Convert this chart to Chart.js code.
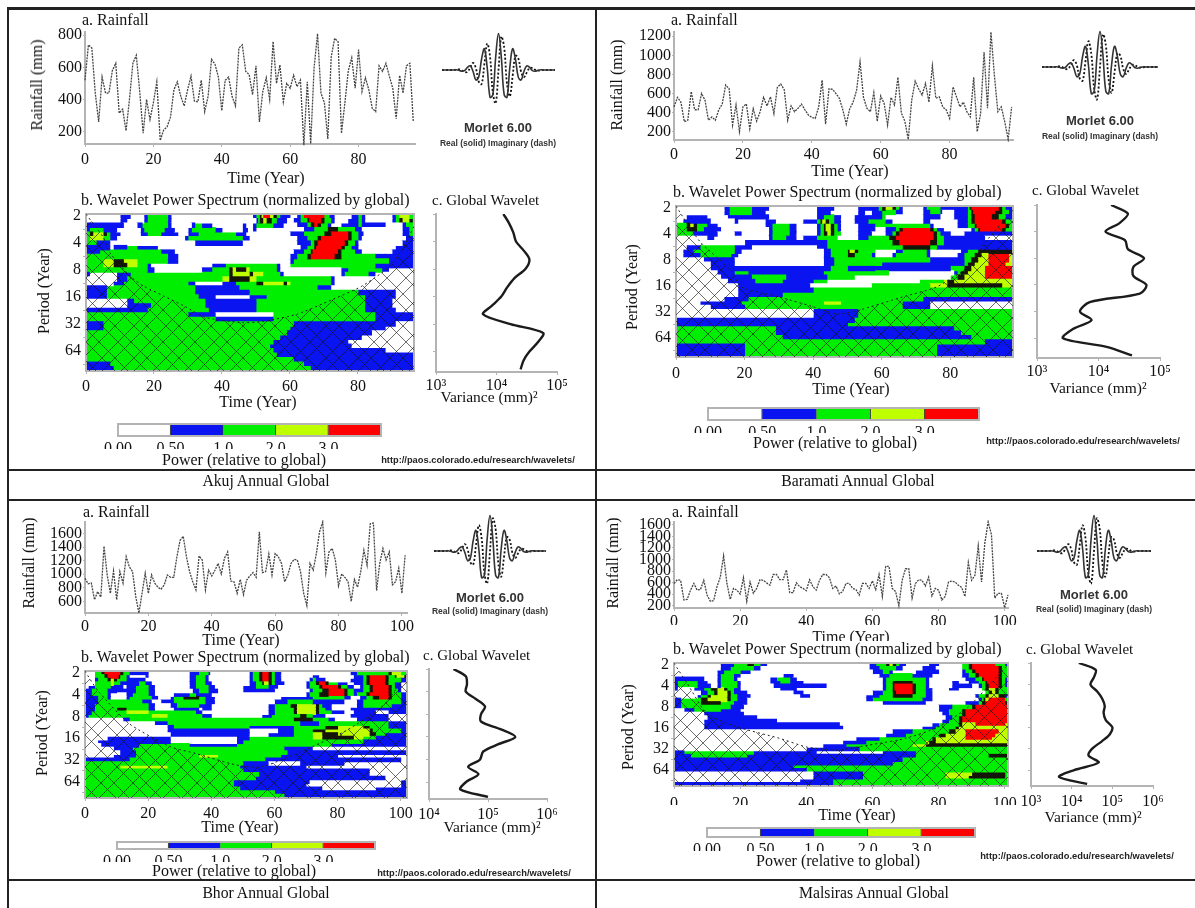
<!DOCTYPE html>
<html>
<head>
<meta charset="utf-8">
<title>Annual Global Wavelet</title>
<script src="https://cdn.jsdelivr.net/npm/chart.js@4/dist/chart.umd.min.js"></script>
<style>
  html, body { margin: 0; padding: 0; background: #fff; }
  #page { position: relative; width: 1195px; height: 908px; overflow: hidden; filter: blur(0.35px); }
  #page canvas { position: absolute; }
  .rule { position: absolute; background: #222; }
  .txt { position: absolute; white-space: nowrap; color: #111; font-family: "Liberation Serif", serif; }
</style>
</head>
<body>
<div id="page"></div>
<script>
const akuj_rain = [520,740,720,440,260,540,440,440,580,625,315,340,205,400,625,675,450,190,400,275,380,510,145,210,230,290,460,510,420,360,460,545,390,385,520,325,420,650,620,540,330,520,540,420,360,720,740,575,555,430,610,260,450,535,400,760,500,615,385,500,470,550,480,520,115,510,125,600,810,440,380,155,665,780,760,190,380,580,660,470,710,450,535,460,345,325,610,575,625,545,470,280,550,440,610,625,260]
const baramati_rain = [460,560,510,305,320,620,430,430,600,530,320,355,320,430,490,690,650,270,480,200,460,490,230,440,310,410,560,470,565,390,665,700,640,320,470,410,445,490,430,375,350,340,460,740,280,650,645,600,550,430,280,440,510,635,930,560,445,410,610,310,575,495,270,560,480,770,395,310,120,530,730,650,585,705,510,890,550,565,460,430,340,670,565,460,510,410,355,770,200,390,1035,445,1245,790,410,460,305,120,460]
const bhor_rain = [941,860,870,625,745,665,1415,990,720,1050,625,1040,870,1260,1110,1040,675,430,720,1015,720,990,870,810,780,845,990,955,955,1260,1500,1560,1260,1040,890,770,1270,1210,770,1060,975,1060,1160,1005,1235,1330,900,890,720,925,700,915,975,1025,955,1625,1025,1040,1300,990,1305,1260,1160,890,990,1160,1220,1210,1040,720,540,1160,1060,1305,1625,1770,1025,1330,1380,1210,830,1005,955,890,600,925,810,1040,1355,1135,1745,1755,760,1160,1380,1210,1330,845,890,1090,720,1280]
const malsiras_rain = [585,650,640,300,310,470,585,470,480,640,385,275,290,530,695,1065,585,310,500,470,400,685,275,610,415,500,650,640,595,555,740,740,650,650,820,425,425,595,530,500,460,650,530,470,640,740,740,685,500,540,405,445,585,585,500,480,385,585,585,500,630,480,740,360,880,880,500,445,200,640,840,840,330,585,650,640,540,695,370,500,470,300,360,610,625,610,555,515,360,950,640,725,1235,610,1290,1650,1430,330,415,415,165,385]

const akuj_rain_ticks = [200,400,600,800]
const baramati_rain_ticks = [200,400,600,800,1000,1200]
const bhor_rain_ticks = [600,800,1000,1200,1400,1600]
const malsiras_rain_ticks = [200,400,600,800,1000,1200,1400,1600]
const time_ticks = [0,20,40,60,80,100]

const glob_periods = [2,2.5,3.2,4,5,6.3,8,10,12.7,16,20,25,32,40,50,64,80,100]
const akuj_global = [13000,16000,19000,21000,28000,35000,30000,20000,15000,12000,8500,6000,17000,59000,49000,35000,28000,25000]
const baramati_global = [16000,30000,22000,13000,27000,30000,55000,37000,37000,60000,47000,7200,5000,7700,3900,2650,13500,35000]
const bhor_global = [26000,42000,44000,42000,62000,89000,76000,76000,166000,290000,150000,83000,73000,46000,69000,42000,34000,100000]
const malsiras_global = [15000,39000,35000,29000,42000,56000,65000,61000,69000,100000,87000,56000,32000,26000,46000,11500,4900,24000]

// one line per period row, letter = power level, number = year where that level stops
const akuj_cells = [
"w10 b13 w17 b18 g24 b25 w49 b50 g51 k51.5 y52 r54 y55 k56 g57 b60 w62 b63 g64 r70 g71.5 b73 w78 b80 g81 b82 w90 b91 g92 y95 g96.5",
"w10 b12 w17 b18 g24 b25 w50 b50.5 g51 k52 y53 k54.5 g56 b59 w61 b63 g65 k65.5 r69 k70 g72 b73 w77 b80 g81 b82 w90 b91 g92 k93 y95 k96 g96.5",
"b11 w15 b16.5 g24 b25 w31 b32 g34 b37 w46 b47 w49 b50 g55 b58 w62 b65 g66 k67 r68 k69 g71 b72 w75 b80 g81 b88 w93 b94 g96.5",
"b1 g5 b9 w16 b17 g23 b26 w30 b31 g38 b40 w46 b47.5 w49 b50 w64 b67 g71 k74 g79 b81 w93 b95 g96.5",
"g1 k2 y5 k6 g7 b10 w16 b18 g22 b27 w30 b33 g44 b47 w60 b64 g70 k72 r77 k78 g80 b81.5 w93 b95 g96.5",
"g1 y5 g7 b9 w29 b30 g46 b48 w62 b65 g68 k69 r77 k78 g80 b81 w94 b96.5",
"g3 b7 w32 b46 w62 b66 g67 k68 r76 k77 g79 b80 w93 b96.5",
"b7 w8 b12 g15 b21 w63 b65 g67 k67.5 r75 k76 g78 b80 w91 b96.5",
"b4 g22 b26 w61 b64 g66 k66.5 r74 k75 g79 b81 w90 b96.5",
"g24 b27 w60 b62 g65 k66 r73 k75 g85 b88 b96.5",
"g5 y8 k11 y15 g24 b27 w60 b61 g89 b96.5",
"g5 y8 k12 y15 g18 b19 w37 b41 g56 b57 w60 g85 b90 b96.5",
"g18 b20 w34 b37 g42 k43 y44 k47 y48 g56 b57 w75 b77 g87 b89 w96.5",
"b1 w9 b13 g42 k43 y48 k49 y52 g57 b58 w75 b76 g83 b85 w96.5",
"w9 b12 g40 y42 k48 y50 g72 b73 w96.5",
"w8 b11 g30 b32 w40 b44 g50 k52 y58 k59 y60 g72 b73 w96.5",
"b6 g32 b45 g68 b72 w96.5",
"b6 g32 b48 g80 b91 w96.5",
"b6 g33 b38 w48 b53 g82 b91 w96.5",
"w12 b14 g35 b50 g82 b90 w96.5",
"w12 b19 g35 b50 g82 b90 w96.5",
"b18 g36 b50 g82 b91 w96.5",
"g30 b38 w55 g85 b96.5",
"g38 b55 g85 b96.5",
"b5 g61 b91 w96.5",
"b5 g60 b88 w96.5",
"g59 b84 w96.5",
"g57 b81 w96.5",
"g55 b77 w96.5",
"g54 b78 w96.5",
"g55 b88 w96.5",
"g56 b96.5",
"g61 b96.5",
"b7 g64 b96.5",
"b8 g66 b96.5"]
const baramati_cells = [
"w14 b15.5 g22 b27 w41 b46 w53 b59 g60 k61 y63 k64 g65 b66 w72 b73 g77 b85 g85.5 k86 r94 k95 g96 b98.3",
"w14 b15.5 g22 b26 w41 b45 w53 b55 w57 b60 g64 b66 w72 b74 g77 b77.5 w81 b85 g86 k86.5 r93 k95 g97 b98.3",
"w3 b9 w15 b27 w41 b43 g46 b48 w52 b60 g61 w72 b77 w81 b85 g86 k87 r92 k94 g96 b98.3",
"w2 b10 w17 b18 w26 b29 w37 b41 g42 k42.5 y43.5 k44.5 g46 b48 w52 b56 g61 b63 w72 b74 w82 b85 g86 k87 r95 k96 g98.3",
"g3 k4 y5 k6 g9 b12 w26 b28 g33 b35 w41 b42 g43 k43.5 y45 k46 g47 b48 w53 b58 g74 b75 w82 b85 g87 k87.5 r96 k97 g98.3",
"g3 k6 g8 b13 w27 b28 g33 b35 w41 b42 g43 k43.5 y45 k46 g47 b48 w53 b58 w61 b64 g65 k66 r74 k75 g76 b78 w86 b87 g88 k88.5 r95 k96 g98.3",
"g5 b12 w17 b19 w27 b28 g33 b35 w41 b42 g43 k44 y45 k46 g48 w53 b57 w61 b63 g64 k65 r75 k76 g77 b80 w84 b98.3",
"w9 b11 w27 b28 g32 b35 w37 b41 g47 w53 b56 g62 k64 r75 k76 g78 b90 w98.3",
"w20 b44 g63 k65 r74 k76 g78 b98.3",
"w3 b7 g17 b22 w41 b44 g66 k74 g76 b81 b98.3",
"w2 b5 g17 b19 w43 b45 g50 k50.5 y52 k53 g58 w64 b66 g73 b74 w83 b85 g88 k98.3",
"w2 b7 g16 b18 w43 b45 g50 k52 g57 b58 w63 b64 g73 b74 w82 b84 g87 k89 y91 r97 y98.3",
"w8 b17 w43 b46 g74 b84 g86 k88 y91 r97 y98.3",
"w10 b17 w43 b46 g60 b84 g85 k87 y91 r96 y98.3",
"w10 b45 g50 b58 b80 g84 k86 y90 r98.3",
"w12 b17 g21 b43 g62 w81 b82 g83 k85 y90 r98.3",
"w13 b22 g32 b44 g52 w80 g82 k84 y90 r98.3",
"w15 b23 g31 b40 g44 w71 g78 y79 k81 y98.3",
"w18 b39 w57 g74 y79 k95 y98.3",
"w18 b40 g98.3",
"w18 b31 g98.3",
"w14 b21 g72 b98.3",
"w7 b19 g43 y48 g66 b74 w98.3",
"w10 b20 g66 b74 w98.3",
"w40 b53 g98.3",
"w40 b53 g98.3",
"b52 g98.3",
"b50 g98.3",
"g29 b81 g98.3",
"g29 b83 g98.3",
"g31 b86 g98.3",
"g90 b98.3",
"b20 g76 b98.3",
"b20 g76 b98.3",
"b20 g76 b98.3"]
const bhor_cells = [
"w3 g5 k6 r11 k12 g14 b20 w33 b36 g39 b39.5 w52 b53 g55 k56 r58 k59 g60 b62 w84 b86 g96 k97 y100 g102",
"w3 g6 k7 r10.5 k11 g13 b14 w19 b20 w33 b35 g38 b39 w52 b53 g55 k56 r58 k59 g60 b62 w72 b74 w85 b88 g89 k90 r95 k96 g98 k98.5 y101 k102",
"w3 b4 g7 k8 y9 k10 g13 b19 w33 b35 g38 b39 w52 b53 g55 k56 r58 k59 g60 b62 w71 b72 g73 b76 w84 b88 g89 k90 r95 k96 g100 b102",
"w3 g8 y9 g11 b17 g19 b21 w33 b35 g38 b40 w52 b54 g56 k56.5 y58 k59 g60 b63 w70 b71 g73 k74 r76 k77 g80 b83 w85 b88 g89 k90 r95 k96 g98 b100 w102",
"w1 b3 g8 b12 w13 b16 g20 b22 w33 b35 g39 b41 w50 b54 g58 b61 w70 b71 g74 k75 r80 k81 g83 b85 w87 b88 g90 k91 r96 k97 g98 b100 w102",
"b2 g7 b10 b16 g20 b22 w34 b36 g39 b42 w50 b60 w71 b72 g75 k77 r82 k83 g85 b88 g90 k91 r96 k97 g99 b100 w102",
"b2 g7 b8 w13 b15 g20 b22 w28 b33 g35 b40 w70 b71 g74 k77 r82 k83 g85 b86 g89 k90 r96 k97 g100 b102",
"b4 g7 b8 w13 b14 g21 b23 w27 b28 g31 k36 g38 b41 w62 b72 g82 b84 w87 b89 g91 k93 r96 k97 g100 b102",
"b4 g18 b21 w24 b28 g38 b41 w60 b64 g72 b82 w86 b88 g100 b102",
"b3 g20 b22 w27 b29 g36 b40 w58 b60 g65 k67 y73 k74 g75 b78 w86 b88 g97 b102",
"b3 g10 k13 g20 b22 w28 b36 w37 b40 w58 b60 g66 k67 y73 k74 g76 b78 w84 b88 b102",
"b2 g13 y20 g35 b37 w58 b60 g66 k67 y73 k74 g78 b82 w85 b92 w96 b102",
"b1 g21 y26 g37 b40 w56 b59 g68 k70 g72 b76 w84 b96 w102",
"w12 b14 g66 k68 k72 g77 b79 w86 b96 w102",
"w22 b26 g68 b74 g90 g96 b102",
"w26 b28 g52 b66 g76 k80 y88 k90 g96 b102",
"w26 b52 w61 b66 g72 k76 y90 k91 g100 b102",
"w27 b52 w58 b66 g72 y75 k80 y90 k92 g95 b102",
"w7 b27 w48 b52 g72 y75 k85 y88 g92 b102",
"w4 b27 w48 b50 g88 b102",
"w5 b17 g33 b48 g78 b102",
"w9 b15 g63 b72 w102",
"w11 b16 g64 b102",
"w9 b16 g36 y42 g62 b80 w102",
"b14 g57 b100 w102",
"g50 b58 w68 b82 w102",
"g11 y26 g49 b70 w102",
"g50 b90 w102",
"g55 b90 w102",
"g54 b95 w102",
"g47 b71 w100 b102",
"g47 b70 w100 b102",
"g49 b75 w92 b102",
"g60 b102",
"g63 b102"]
const malsiras_cells = [
"w14 b18 g22 k24 g26 b28 w59 b61 g64 k65 y66 k67 g68 b70 w77 b80 w87 g89 k90 r97 g100 b101",
"w14 b17 g24 b26 w59 b62 g67 b69 w75 b79 w87 g89 k90 r98 k99 g101",
"w13 b15 g20 b23 w60 b63 g65 b66 w73 b80 w87 b88 g90 k91 r98 k99 g101",
"w13 b14 g18 b20 w33 b36 w62 b65 g72 b74 b78 w87 b89 g91 k92 r98 k99 g101",
"b9 w13 b14 g18 b19 w29 b31 g35 b37 w63 b64 g76 b77 w88 b91 g93 k93.5 r98 k99 g100 b101",
"b1 g7 b10 w13 b14 g19 b20 w29 b32 g35 b39 w63 b64 g66 k72 g76 b77 w84 b86 w89 b92 g94 k94.5 r98 k99 g100 b101",
"b1 g7 b11 w13 b14 g19 b20 w30 b46 w63 b64 g66 k66.5 r72 k73 g76 b77 w84 b90 w92 b93 g94 k95 r98 k99 g100 b101",
"b1 w6 b9 g11 k13 y15 k16 g18 b20 w32 b37 w63 b64 g66 k66.5 r72 k73 g76 b78 w83 b86 w93 g94 k95 y97 k98 g101",
"w8 b10 g12 k13 y16 k17 g18 b22 w36 b39 w60 b63 g66 k67 r72 k73 g76 b78 w94 g95 k96 y97 k98 g101",
"w7 b8 g10 k11 y16 k17 g19 b23 w38 b41 w58 b62 g66 k72 g76 b78 w91 b92 g94 k95 y98 k100 b101",
"b2 g8 k10 y16 k17 g19 b22 w58 b60 g75 b78 w92 b93 g93.5 k94 y95 r100 g101",
"b2 g8 k10 k14 g18 b22 w63 b66 b76 w88 b92 g93 k94 r100 k101",
"b2 g17 b21 w80 b84 g90 k91 r101",
"w3 b6 g14 b20 w80 b83 g87 k88 r101",
"w9 b21 w81 b83 g87 k88 r101",
"w10 b25 w82 b84 g86 k87 r101",
"w9 b31 w81 b83 g86 k87 r101",
"w9 b50 w78 b80 g86 k87 y91 r100 y101",
"w9 b51 w75 b79 g85 k86 y101",
"w66 b72 g83 k85 y88 r98 y101",
"w64 b70 g80 k82 y88 r97 y101",
"w55 b62 g78 k79 y88 r96 y101",
"w51 b58 g76 y77 k79 y101",
"w45 b52 g72 y76 k101",
"w40 b56 g101",
"b3 g24 b43 w63 b73 g101",
"b5 g22 b73 g95 k101",
"b69 g101",
"b66 g101",
"b36 g101",
"b40 g101",
"w42 b57 g82 y90 k100 g101",
"w42 b57 g82 y89 k100 g101",
"w38 b48 g101",
"b48 g101"]

const akuj_coi_years = [0,5,7,13,17,23,29,35,46,52,62,72,81,89,93,96.5]
const akuj_coi_periods = [1.9,3.4,5.1,9.4,12.1,15.7,20.3,27,31,30,25,17.4,12.2,7.5,4.7,2.6]
const baramati_coi_years = [0,7,16,19,30,40,47,53,66,76,85,90,98.3]
const baramati_coi_periods = [1.9,4.9,10.6,16.5,21.5,28,34,31,21.6,16.5,9.7,5.1,2.1]
const bhor_coi_years = [0,4,14,27,35,48,56,72,83,94,102]
const bhor_coi_periods = [1.9,3.5,10.1,21,26,37.7,40,21,12.4,5.9,2.1]
const malsiras_coi_years = [0,4,10,19,32,40,49,59,70,80,89,101]
const malsiras_coi_periods = [1.9,3.7,10,15.4,22.5,29.8,33,28,22.5,15.4,8,2]

const morlet_real = [0,0,0,0,0,.007,-.009,-.034,-.015,.071,.114,-.04,-.274,-.195,.296,.583,.063,-.749,-.68,.355,1,.355,-.68,-.749,.063,.583,.296,-.195,-.274,-.04,.114,.071,-.015,-.034,-.009,.007,0,0,0,0,0]
const morlet_imag = [0,0,0,0,0,.008,.018,-.004,-.054,-.053,.072,.194,.049,-.321,-.387,.169,.723,.37,-.623,-.913,0,.913,.623,-.37,-.723,-.169,.387,.321,-.049,-.194,-.072,.053,.054,.004,-.018,-.008,0,0,0,0,0]

const period_ticks = [2,4,8,16,32,64]
const colorbar_labels = ['0.00','0.50','1.0','2.0','3.0']
const colorbar_steps = [1,1,1,1,1]

const level_colors = { w:'#ffffff', b:'#0a14f0', g:'#00ee00', y:'#bfff00', r:'#ff0000', k:'#141408' }
const colorbar_colors = ['#ffffff','#0a14f0','#00ee00','#bfff00','#ff0000']

Chart.defaults.font.family = '"Liberation Serif", serif'
Chart.defaults.font.size = 16
Chart.defaults.color = '#111'
Chart.defaults.animation = false

const page = document.getElementById('page')
const axis_gray = '#b4b4b4'

function rule(l, t, w, h, color){
    const d = document.createElement('div')
    d.className = 'rule'
    d.style.cssText = `left:${l}px;top:${t}px;width:${w}px;height:${h}px;` + (color ? `background:${color};` : '')
    page.appendChild(d)
}

function label(text, x, y, opt={}){
    const d = document.createElement('div')
    d.className = 'txt'
    d.textContent = text
    const size = opt.size || 16
    let tr = opt.left ? 'translate(0,-50%)' : 'translate(-50%,-50%)'
    if(opt.rotate) tr += ' rotate(-90deg)'
    d.style.cssText = `left:${x}px;top:${y}px;font-size:${size}px;transform:${tr};`
    if(opt.font) d.style.fontFamily = opt.font
    if(opt.weight) d.style.fontWeight = opt.weight
    if(opt.blur) d.style.filter = `blur(${opt.blur}px)`
    if(opt.color) d.style.color = opt.color
    if(opt.clip) { d.style.overflow = 'hidden'; d.style.height = opt.clip + 'px'; d.style.lineHeight = size + 'px' }
    page.appendChild(d)
}

// gray box around the plot
const frame_plugin = {
    id: 'frame_plugin',
    afterDraw(chart){
        const a = chart.chartArea, ctx = chart.ctx
        ctx.save()
        ctx.strokeStyle = axis_gray
        ctx.lineWidth = 2
        ctx.strokeRect(a.left, a.top, a.right - a.left, a.bottom - a.top)
        ctx.restore()
    }
}

function hatch_pattern(){
    const n = 32
    const tile = document.createElement('canvas')
    tile.width = n
    tile.height = n
    const c = tile.getContext('2d')
    c.strokeStyle = 'rgba(20,20,20,.62)'
    c.lineWidth = 1
    c.beginPath()
    for(const offset of [0, 13]){
        for(let k = -1; k <= 1; k++){
            const x = offset + k * n
            c.moveTo(x, 0); c.lineTo(x + n, n)
            c.moveTo(x, n); c.lineTo(x + n, 0)
        }
    }
    c.stroke()
    return c.createPattern(tile, 'repeat')
}
const hatch = hatch_pattern()

// canvas is placed so the plot area lands exactly on box [left, top, right, bottom]
function add_chart(box, config, m={}){
    const W = m.W === undefined ? 45 : m.W, H = m.H === undefined ? 24 : m.H
    const T = m.T === undefined ? 8 : m.T, R = m.R === undefined ? 20 : m.R
    const canvas = document.createElement('canvas')
    const w = box[2] - box[0] + W + R, h = box[3] - box[1] + T + H
    canvas.width = w
    canvas.height = h
    canvas.style.cssText = `left:${box[0] - W}px;top:${box[1] - T}px;width:${w}px;height:${h}px;`
    page.appendChild(canvas)
    config.options.responsive = false
    config.options.layout = { padding: { top: T, right: R, left: 0, bottom: 0 } }
    config.options.plugins = { legend: { display: false }, tooltip: { enabled: false } }
    for(const id in config.options.scales){
        const s = config.options.scales[id]
        if(s.display === false) continue
        if(id === 'x') s.afterFit = function(a){ a.height = H; a.paddingLeft = 0; a.paddingRight = 0 }
        else s.afterFit = function(a){ a.width = W; a.paddingTop = 0; a.paddingBottom = 0 }
    }
    return new Chart(canvas, config)
}

function x_axis(max, pad, extra){
    return Object.assign({
        type: 'linear', min: 0, max: max,
        grid: { drawOnChartArea: false, color: axis_gray, tickLength: 3 },
        border: { color: axis_gray, width: 2 },
        afterBuildTicks(s){ s.ticks = time_ticks.filter(v => v <= max).map(v => ({ value: v })) },
        ticks: { padding: pad, maxRotation: 0, autoSkip: false, color: '#111', callback(v){ return String(v) } }
    }, extra)
}

function draw_rain(box, values, y_min, y_max, y_ticks, max_year, pad, H){
    add_chart(box, {
        type: 'line',
        data: { datasets: [{ data: values.map((v, i) => ({ x: i, y: v })), borderColor: '#444', borderWidth: 1.3, borderDash: [2, 1], pointRadius: 0, tension: 0, clip: 2 }] },
        options: { scales: {
            x: x_axis(max_year, pad),
            y: { min: y_min, max: y_max, grid: { drawOnChartArea: false, color: axis_gray, tickLength: 2 }, border: { color: axis_gray, width: 2 },
                 afterBuildTicks(s){ s.ticks = y_ticks.map(v => ({ value: v })) },
                 ticks: { padding: 1, autoSkip: false, color: '#111', callback(v){ return String(v) } } }
        } }
    }, { H: H })
}

function cell_datasets(rows){
    const parsed = rows.map(row => row.split(' ').map(p => ({ c: p[0], end: parseFloat(p.slice(1)) })))
    const most = Math.max(...parsed.map(r => r.length))
    const sets = []
    for(let k = 0; k < most; k++){
        const data = [], colors = []
        parsed.forEach(runs => {
            if(k >= runs.length){ data.push(0); colors.push('rgba(0,0,0,0)'); return }
            const start = k ? runs[k - 1].end : 0
            data.push(Math.max(runs[k].end - start, 0))
            colors.push(level_colors[runs[k].c])
        })
        sets.push({ data: data, backgroundColor: colors, barPercentage: 1, categoryPercentage: 1, inflateAmount: 0.5 })
    }
    return sets
}

function draw_wavelet(box, rows, coi_years, coi_periods, max_year, pad, H){
    add_chart(box, {
        type: 'bar',
        data: { labels: rows.map((r, i) => i), datasets: cell_datasets(rows) },
        options: {
            indexAxis: 'y',
            scales: {
                x: x_axis(max_year, pad, { stacked: true }),
                y: { type: 'category', stacked: true, grid: { drawOnChartArea: false, color: axis_gray, tickLength: 3 }, border: { color: axis_gray, width: 2 },
                     afterBuildTicks(s){ s.ticks = s.ticks.filter(t => t.value % 6 === 0) },
                     ticks: { autoSkip: false, padding: 2, color: '#111', callback(v){ return period_ticks[v / 6] } } }
            }
        },
        plugins: [frame_plugin]
    }, { H: H })
    // cone of influence sits in its own transparent chart over the cells
    add_chart(box, {
        type: 'line',
        data: { datasets: [{
            data: coi_years.map((y, i) => ({ x: y, y: coi_periods[i] })),
            borderColor: '#222', borderWidth: 1, borderDash: [2, 3], pointRadius: 0, tension: 0.2,
            fill: 'start', backgroundColor: hatch
        }] },
        options: { scales: {
            x: { type: 'linear', display: false, min: 0, max: max_year },
            y: { type: 'logarithmic', display: false, reverse: true, min: 1.888, max: 107.6 }
        } }
    }, { W: 0, H: 0, T: 0, R: 0 })
}

function draw_global(box, values, x_min, x_max, decades, pad){
    add_chart(box, {
        type: 'line',
        data: { datasets: [{ data: values.map((v, i) => ({ x: v, y: glob_periods[i] })), borderColor: '#1c1c1c', borderWidth: 2.4, pointRadius: 0, tension: 0.3 }] },
        options: {
            indexAxis: 'y',
            scales: {
                x: { type: 'logarithmic', min: x_min, max: x_max, grid: { drawOnChartArea: false, color: axis_gray, tickLength: 3 }, border: { color: axis_gray, width: 2 },
                     afterBuildTicks(s){ s.ticks = decades.map(d => ({ value: d[0], label: d[1] })) },
                     ticks: { padding: pad, autoSkip: false, maxRotation: 0, color: '#111', callback(v){ return decades.find(d => d[0] === v)[1] } } },
                y: { type: 'logarithmic', reverse: true, min: 2, max: 107, grid: { drawOnChartArea: false, color: axis_gray, tickLength: 3 }, border: { color: axis_gray, width: 2 },
                     afterBuildTicks(s){ s.ticks = period_ticks.map(p => ({ value: p })) },
                     ticks: { display: true, autoSkip: false, callback(){ return '' } } }
            }
        }
    }, { W: 20, R: 22 })
}

function draw_colorbar(box, H){
    add_chart(box, {
        type: 'bar',
        data: { labels: ['power'], datasets: colorbar_steps.map((v, i) => ({ data: [v], backgroundColor: colorbar_colors[i], borderColor: '#333', borderWidth: 1, barPercentage: 1, categoryPercentage: 1 })) },
        options: {
            indexAxis: 'y',
            scales: {
                x: { type: 'linear', stacked: true, min: 0, max: 5, grid: { display: false, drawTicks: false }, border: { display: false },
                     ticks: { stepSize: 1, padding: 3, autoSkip: false, maxRotation: 0, color: '#111', callback(v){ return colorbar_labels[v] || '' } } },
                y: { type: 'category', stacked: true, grid: { display: false }, border: { display: false }, ticks: { display: false } }
            }
        },
        plugins: [frame_plugin]
    }, { W: 20, R: 20, T: 2, H: H })
}

function draw_morlet(box){
    add_chart(box, {
        type: 'line',
        data: { labels: morlet_real.map((v, i) => i), datasets: [
            { data: morlet_real, borderColor: '#333', borderWidth: 1.6, pointRadius: 0, tension: 0.4 },
            { data: morlet_imag, borderColor: '#111', borderWidth: 1.8, borderDash: [2, 2], pointRadius: 0, tension: 0.4 }
        ] },
        options: { scales: { x: { display: false }, y: { display: false, min: -1.1, max: 1.1 } } }
    }, { W: 0, R: 0, T: 0, H: 0 })
}

function morlet_text(x, y1, y2){
    label('Morlet 6.00', x, y1, { size: 13, font: '"Liberation Sans", sans-serif', weight: 'bold', blur: 0.6, color: '#333' })
    label('Real (solid)  Imaginary (dash)', x, y2, { size: 8.5, font: '"Liberation Sans", sans-serif', weight: 'bold', blur: 0.6, color: '#333' })
}

const url_text = 'http://paos.colorado.edu/research/wavelets/'
const url_style = { size: 9.3, font: '"Liberation Sans", sans-serif', weight: 'bold', blur: 0.6, color: '#222' }
const small_title = { left: true, size: 15 }

// frame of the four panels
rule(7, 7, 1188, 3)
rule(7, 7, 2, 901)
rule(595, 7, 2, 901)
rule(7, 469, 1188, 2)
rule(7, 499, 1188, 2)
rule(7, 879, 1188, 2)

// Akuj
draw_rain([85, 32, 415, 144], akuj_rain, 123, 820, akuj_rain_ticks, 96.5, 3)
label('a. Rainfall', 82, 20, { left: true })
label('Rainfall (mm)', 37, 85, { rotate: true })
label('Time (Year)', 266, 178)
draw_morlet([442, 30, 555, 110])
morlet_text(498, 127, 143)
label('b. Wavelet Power Spectrum (normalized by global)', 81, 200, { left: true })
draw_wavelet([86, 214, 414, 371], akuj_cells, akuj_coi_years, akuj_coi_periods, 96.5, 3)
label('Period (Year)', 44, 291, { rotate: true })
label('Time (Year)', 258, 402)
label('c. Global Wavelet', 432, 200, small_title)
draw_global([436, 214, 557, 372], akuj_global, 1e3, 1e5, [[1e3,'10³'],[1e4,'10⁴'],[1e5,'10⁵']], 1)
label('Variance (mm)²', 489, 397, { size: 15.5 })
draw_colorbar([118, 424, 381, 436], 13)
label('Power (relative to global)', 244, 460)
label(url_text, 478, 460, url_style)
label('Akuj Annual Global', 266, 481, { size: 15.7 })

// Baramati
draw_rain([674, 32, 1013, 140], baramati_rain, 113, 1245, baramati_rain_ticks, 98.4, 2)
label('a. Rainfall', 671, 20, { left: true })
label('Rainfall (mm)', 617, 85, { rotate: true })
label('Time (Year)', 850, 171)
draw_morlet([1042, 28, 1158, 106])
morlet_text(1100, 120, 136)
label('b. Wavelet Power Spectrum (normalized by global)', 673, 192, { left: true })
draw_wavelet([676, 206, 1013, 357], baramati_cells, baramati_coi_years, baramati_coi_periods, 98.3, 4)
label('Period (Year)', 632, 287, { rotate: true })
label('Time (Year)', 851, 389)
label('c. Global Wavelet', 1032, 190, small_title)
draw_global([1037, 205, 1160, 358], baramati_global, 1e3, 1e5, [[1e3,'10³'],[1e4,'10⁴'],[1e5,'10⁵']], 1)
label('Variance (mm)²', 1098, 388, { size: 15.5 })
draw_colorbar([708, 408, 979, 420], 13)
label('Power (relative to global)', 835, 443)
label(url_text, 1083, 441, url_style)
label('Baramati Annual Global', 858, 481, { size: 15.7 })

// Bhor
draw_rain([85, 522, 407, 613], bhor_rain, 430, 1770, bhor_rain_ticks, 101.6, 1)
label('a. Rainfall', 83, 512, { left: true })
label('Rainfall (mm)', 29, 563, { rotate: true })
label('Time (Year)', 241, 640)
draw_morlet([434, 512, 546, 590])
morlet_text(490, 597, 611)
label('b. Wavelet Power Spectrum (normalized by global)', 81, 657, { left: true })
draw_wavelet([85, 671, 407, 798], bhor_cells, bhor_coi_years, bhor_coi_periods, 102, 3)
label('Period (Year)', 42, 733, { rotate: true })
label('Time (Year)', 240, 827)
label('c. Global Wavelet', 423, 655, small_title)
draw_global([429, 669, 547, 799], bhor_global, 1e4, 1e6, [[1e4,'10⁴'],[1e5,'10⁵'],[1e6,'10⁶']], 3)
label('Variance (mm)²', 492, 827, { size: 15.5 })
draw_colorbar([117, 842, 375, 849], 13)
label('Power (relative to global)', 234, 871)
label(url_text, 474, 873, url_style)
label('Bhor Annual Global', 266, 893, { size: 15.7 })

// Malsiras
draw_rain([674, 522, 1008, 608], malsiras_rain, 160, 1650, malsiras_rain_ticks, 101, 1, 17)
label('a. Rainfall', 672, 512, { left: true })
label('Rainfall (mm)', 613, 563, { rotate: true })
label('Time (Year)', 851, 635, { clip: 12 })
draw_morlet([1037, 512, 1151, 590])
morlet_text(1094, 594, 609)
label('b. Wavelet Power Spectrum (normalized by global)', 673, 649, { left: true })
draw_wavelet([674, 663, 1008, 786], malsiras_cells, malsiras_coi_years, malsiras_coi_periods, 101, 5, 19)
label('Period (Year)', 628, 727, { rotate: true })
label('Time (Year)', 857, 815)
label('c. Global Wavelet', 1026, 649, small_title)
draw_global([1031, 663, 1153, 786], malsiras_global, 1e3, 1e6, [[1e3,'10³'],[1e4,'10⁴'],[1e5,'10⁵'],[1e6,'10⁶']], 3)
label('Variance (mm)²', 1093, 817, { size: 15.5 })
draw_colorbar([707, 828, 975, 837], 14)
label('Power (relative to global)', 838, 861)
label(url_text, 1077, 856, url_style)
label('Malsiras Annual Global', 874, 893, { size: 15.7 })
</script>
</body>
</html>
